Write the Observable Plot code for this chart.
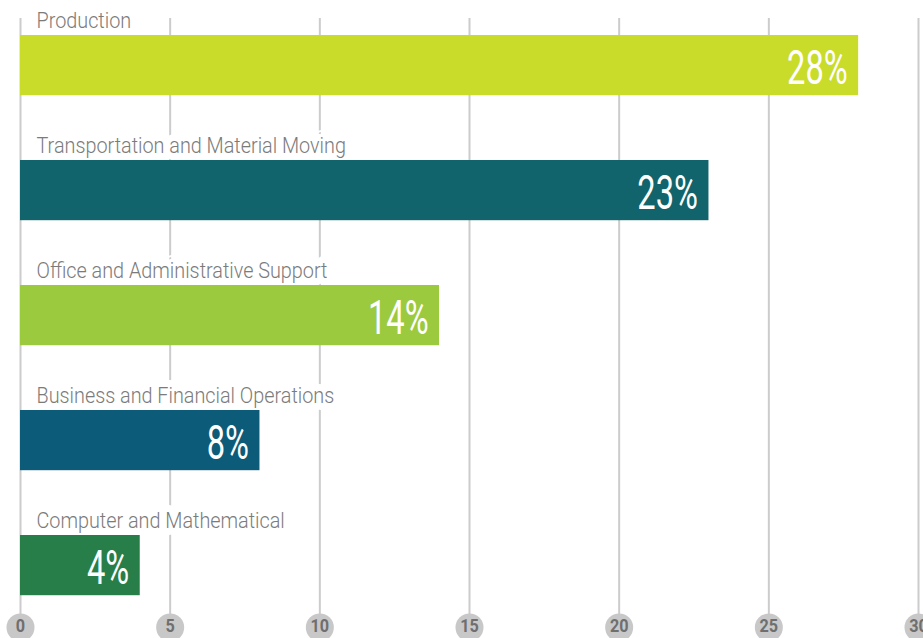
<!DOCTYPE html>
<html>
<head>
<meta charset="utf-8">
<script src="https://cdn.jsdelivr.net/npm/d3@7"></script>
<script src="https://cdn.jsdelivr.net/npm/@observablehq/plot@0.6"></script>
<style>
  html, body { margin: 0; padding: 0; background: #ffffff; }
  #chart { width: 923px; height: 638px; overflow: hidden; }
</style>
</head>
<body>
<div id="chart"></div>
<script>
const categories = [
  "Production",
  "Transportation and Material Moving",
  "Office and Administrative Support",
  "Business and Financial Operations",
  "Computer and Mathematical"
];
const values = [28, 23, 14, 8, 4];
const barColors = ["#c9dc2a", "#11646b", "#9bca3f", "#0c5b79", "#277e48"];
const tickValues = [0, 5, 10, 15, 20, 25, 30];

const data = categories.map((c, i) => ({category: c, value: values[i]}));

const plot = Plot.plot({
  width: 923,
  height: 638,
  marginTop: 0,
  marginBottom: 9,
  marginLeft: 20,
  marginRight: 5,
  x: {domain: [0, 30], axis: null},
  y: {domain: categories, axis: null, padding: 0},
  color: {domain: categories, range: barColors},
  style: {fontFamily: "Roboto", background: "white", overflow: "hidden"},
  marks: [
    Plot.ruleX(tickValues, {stroke: "#cccccc", strokeWidth: 2, insetTop: 18}),
    Plot.text(data, {
      x: 0, y: "category", text: "category", textAnchor: "start",
      dx: 16, dy: -44, fontSize: 22, fontWeight: 300, fill: "#7b7b7b",
      stroke: "white", strokeWidth: 14, paintOrder: "stroke", strokeLinejoin: "round"
    }),
    Plot.barX(data, {x: "value", y: "category", fill: "category", insetTop: 33, insetBottom: 31.8}),
    Plot.text(data, {
      x: "value", y: "category", text: d => d.value + "%", textAnchor: "end",
      dx: -11, dy: 4, fontSize: 48, fontWeight: 400, fill: "white"
    }),
    Plot.dot(tickValues, {x: d => d, frameAnchor: "bottom", r: 14, fill: "#c8c8c8", stroke: "none", dy: -2}),
    Plot.text(tickValues, {
      x: d => d, frameAnchor: "bottom", lineAnchor: "middle", text: d => String(d), dy: -3,
      fontSize: 18, fontWeight: "bold", fill: "#6f6f6f"
    })
  ]
});

document.getElementById("chart").appendChild(plot);

function squeeze(selector, factor) {
  d3.select(plot).selectAll(selector).each(function () {
    const w = this.getComputedTextLength();
    this.setAttribute("textLength", w * factor);
    this.setAttribute("lengthAdjust", "spacingAndGlyphs");
  });
}
squeeze('g[font-size="22"] text', 0.9);
squeeze('g[font-size="48"] text', 0.68);
squeeze('g[font-size="18"] text', 0.9);
</script>
</body>
</html>
